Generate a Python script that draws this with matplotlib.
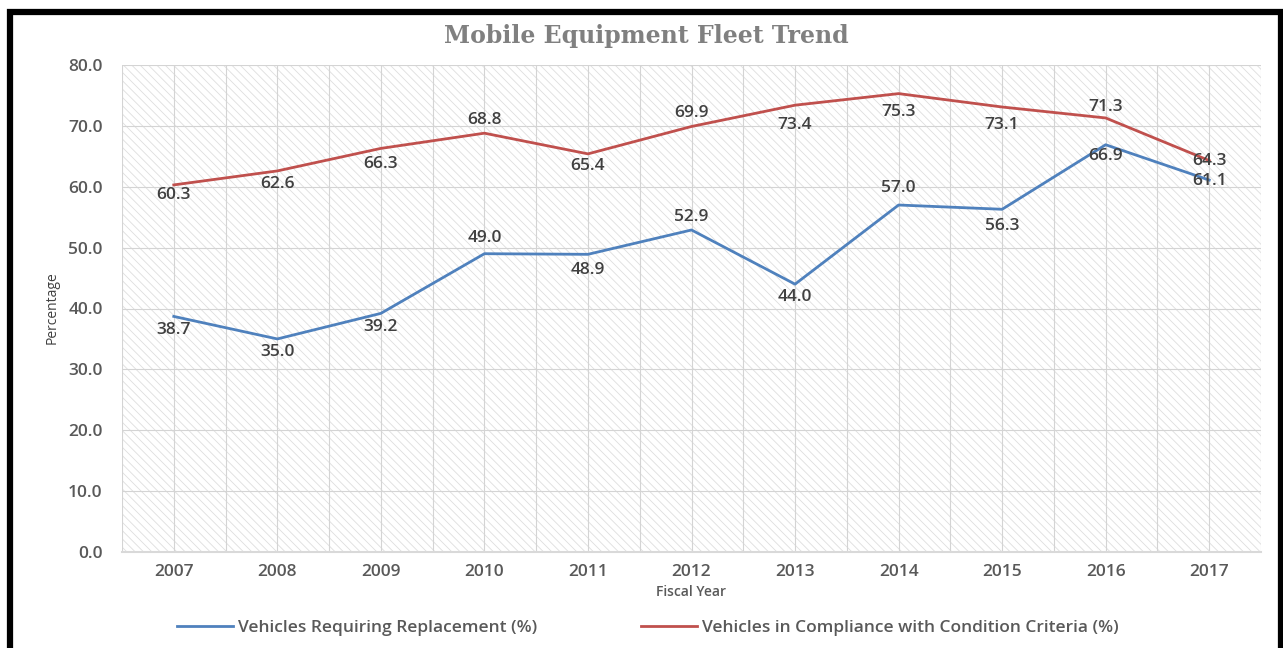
import numpy as np
import matplotlib
matplotlib.use("Agg")
import matplotlib.pyplot as plt
from matplotlib.patches import Rectangle
from matplotlib.ticker import FixedLocator

years = ["2007", "2008", "2009", "2010", "2011", "2012", "2013", "2014", "2015", "2016", "2017"]
replacement = [38.7, 35.0, 39.2, 49.0, 48.9, 52.9, 44.0, 57.0, 56.3, 66.9, 61.1]
compliance = [60.3, 62.6, 66.3, 68.8, 65.4, 69.9, 73.4, 75.3, 73.1, 71.3, 64.3]

# label offsets in points (negative = below the point)
replacement_dy = [-10, -9.5, -9.5, 11, -11, 9, -9.5, 12, -12, -8, -1]
compliance_dy = [-7.5, -9.5, -11.5, 9.5, -9, 9.5, -14, -13, -13, 8, -0.5]

BLUE = "#4f81bd"
RED = "#c0504d"
TXT = "#595959"
W = 600

plt.rcParams["font.family"] = ["Open Sans", "DejaVu Sans"]
plt.rcParams["hatch.linewidth"] = 0.6

fig = plt.figure(figsize=(12.83, 6.48), dpi=100)
ax = fig.add_axes([122 / 1283, 1 - 552 / 648, 1139 / 1283, 487 / 648])

x = np.arange(len(years))

# textured plot background
ax.add_patch(Rectangle((0, 0), 1, 1, transform=ax.transAxes, facecolor="white",
                       edgecolor="#dedede", hatch="\\\\\\\\", lw=0, zorder=0))

ax.plot(x, replacement, color=BLUE, lw=2, label="Vehicles Requiring Replacement (%)", zorder=3)
ax.plot(x, compliance, color=RED, lw=2, label="Vehicles in Compliance with Condition Criteria (%)", zorder=3)

for xi, v, dy in zip(x, replacement, replacement_dy):
    ax.annotate(f"{v:.1f}", (xi, v), xytext=(0, dy), textcoords="offset points",
                ha="center", va="center", fontsize=12.5, fontweight=W, color="#404040", zorder=4)
for xi, v, dy in zip(x, compliance, compliance_dy):
    ax.annotate(f"{v:.1f}", (xi, v), xytext=(0, dy), textcoords="offset points",
                ha="center", va="center", fontsize=12.5, fontweight=W, color="#404040", zorder=4)

ax.set_xlim(-0.5, len(years) - 0.5)
ax.set_ylim(0, 80)
ax.set_xticks(x)
ax.set_xticklabels(years)
ax.xaxis.set_minor_locator(FixedLocator(np.arange(-0.5, len(years), 1.0)))
ax.set_yticks(np.arange(0, 81, 10))
ax.set_yticklabels([f"{t:.1f}" for t in np.arange(0, 81, 10)])
ax.tick_params(axis="both", which="both", length=0, labelsize=12.5, labelcolor=TXT)
ax.tick_params(axis="y", pad=14)
ax.tick_params(axis="x", pad=9)
for lab in ax.get_xticklabels() + ax.get_yticklabels():
    lab.set_fontweight(W)

ax.grid(True, which="major", color="#d4d4d4", lw=0.8, zorder=1)
ax.grid(True, which="minor", axis="x", color="#d4d4d4", lw=0.8, zorder=1)
ax.set_axisbelow(True)
for s in ["top", "right", "left"]:
    ax.spines[s].set_visible(False)
ax.spines["bottom"].set_color("#d9d9d9")
ax.spines["bottom"].set_linewidth(1.5)

ax.set_xlabel("Fiscal Year", fontsize=10, fontweight=W, color=TXT, labelpad=3)
fig.text(52 / 1283, 1 - 308 / 648, "Percentage", rotation=90, ha="center", va="center",
         fontsize=10, color="#404040")

fig.text(646 / 1283, 1 - 36 / 648, "Mobile Equipment Fleet Trend", ha="center", va="center",
         fontsize=17, fontweight="bold", color="#808080", family="DejaVu Serif")

fig.legend(loc="center", bbox_to_anchor=(648 / 1283, 1 - 628 / 648), ncol=2, frameon=False,
           prop={"size": 12.5, "weight": W}, labelcolor=TXT, handlelength=3.2,
           columnspacing=6, handletextpad=0.3)

# black frame around the figure
fig.patches.append(Rectangle((9.5 / 1283, -0.2), (1281 - 9.5) / 1283, 1.2 - 12 / 648,
                             transform=fig.transFigure, fill=False, edgecolor="black", lw=4.5))

fig.savefig("out.png", dpi=100, facecolor="white")
